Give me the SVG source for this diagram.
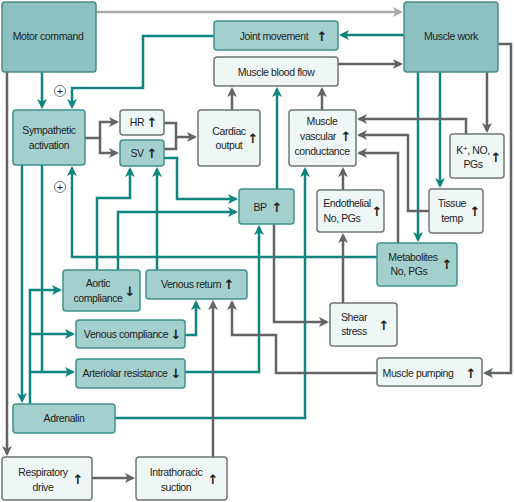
<svg xmlns="http://www.w3.org/2000/svg" width="514" height="502" viewBox="0 0 514 502">
<style>
.big{fill:#8cc1bf;stroke:#4d8a87;stroke-width:1.5}
.tb{fill:#a3cfcd;stroke:#3f918c;stroke-width:1.5}
.lb{fill:#eef6f6;stroke:#707576;stroke-width:1.5}
text{font-family:"Liberation Sans",Arial,sans-serif;font-size:10.5px;fill:#1e1e1e;letter-spacing:-0.4px}
.c{text-anchor:middle}
.ar{font-family:"DejaVu Sans",sans-serif;font-size:13px;font-weight:bold;text-anchor:middle;letter-spacing:0}
.t{fill:none;stroke:#0f8580;stroke-width:2.5}
.g{fill:none;stroke:#626466;stroke-width:2.5}
.lg{fill:none;stroke:#a8aaac;stroke-width:2.5}
</style>
<defs>
<marker id="mt" viewBox="0 0 10 10" refX="8" refY="5" markerWidth="10" markerHeight="10" markerUnits="userSpaceOnUse" orient="auto"><path d="M0,0 L10,5 L0,10 L2.5,5 z" fill="#0f8580"/></marker>
<marker id="mg" viewBox="0 0 10 10" refX="8" refY="5" markerWidth="10" markerHeight="10" markerUnits="userSpaceOnUse" orient="auto"><path d="M0,0 L10,5 L0,10 L2.5,5 z" fill="#626466"/></marker>
<marker id="ml" viewBox="0 0 10 10" refX="8" refY="5" markerWidth="10" markerHeight="10" markerUnits="userSpaceOnUse" orient="auto"><path d="M0,0 L10,5 L0,10 L2.5,5 z" fill="#a8aaac"/></marker>
</defs>
<rect width="514" height="502" fill="#ffffff"/>

<g id="connectors">
<path class="lg" d="M96,12 H401" marker-end="url(#ml)"/>
<path class="t" d="M404,35 H341" marker-end="url(#mt)"/>
<path class="g" d="M338,64 H401" marker-end="url(#mg)"/>
<path class="t" d="M214,36 H143 V88 H72 V107" marker-end="url(#mt)"/>
<path class="t" d="M42,72 V107" marker-end="url(#mt)"/>
<path class="g" d="M7,72 V454" marker-end="url(#mg)"/>
<path class="g" d="M85,138 H100 V122 H117" marker-end="url(#mg)"/>
<path class="g" d="M100,138 V153 H117" marker-end="url(#mg)"/>
<path class="g" d="M164,123 H176 V149 H164"/>
<path class="g" d="M176,137 H195" marker-end="url(#mg)"/>
<path class="g" d="M232,110 V89" marker-end="url(#mg)"/>
<path class="g" d="M322,110 V89" marker-end="url(#mg)"/>
<path class="t" d="M277,189 V89" marker-end="url(#mt)"/>
<path class="t" d="M164,158 H177 V199 H236" marker-end="url(#mt)"/>
<path class="t" d="M118,270 V212 H236" marker-end="url(#mt)"/>
<path class="t" d="M97,270 V198 H130 V169" marker-end="url(#mt)"/>
<path class="t" d="M157,270 V169" marker-end="url(#mt)"/>
<path class="t" d="M377,257 H72 V168" marker-end="url(#mt)"/>
<path class="t" d="M185,372 H259 V227" marker-end="url(#mt)"/>
<path class="t" d="M115,418 H305 V169" marker-end="url(#mt)"/>
<path class="g" d="M274,224 V322 H327" marker-end="url(#mg)"/>
<path class="t" d="M22,165 V401" marker-end="url(#mt)"/>
<path class="t" d="M42,165 V372"/>
<path class="t" d="M30,404 V290 H60" marker-end="url(#mt)"/>
<path class="t" d="M30,334 H73" marker-end="url(#mt)"/>
<path class="t" d="M30,372 H73" marker-end="url(#mt)"/>
<path class="t" d="M185,335 H196 V302" marker-end="url(#mt)"/>
<path class="g" d="M213,457 V302" marker-end="url(#mg)"/>
<path class="g" d="M377,373 H276 V335 H232 V302" marker-end="url(#mg)"/>
<path class="g" d="M498,44 H511 V373 H485" marker-end="url(#mg)"/>
<path class="g" d="M487,72 V131" marker-end="url(#mg)"/>
<path class="t" d="M418,72 V240" marker-end="url(#mt)"/>
<path class="t" d="M440,72 V186" marker-end="url(#mt)"/>
<path class="g" d="M466,134 V119 H359" marker-end="url(#mg)"/>
<path class="g" d="M429,211 H408 V135 H359" marker-end="url(#mg)"/>
<path class="g" d="M398,243 V153 H359" marker-end="url(#mg)"/>
<path class="g" d="M343,190 V169" marker-end="url(#mg)"/>
<path class="g" d="M343,303 V235" marker-end="url(#mg)"/>
<path class="g" d="M92,478 H133" marker-end="url(#mg)"/>
<g id="plus1"><circle cx="60" cy="91" r="5.5" fill="#fff" stroke="#777" stroke-width="1"/><text x="60" y="95" class="c" style="font-size:11px;letter-spacing:0">+</text></g>
<g id="plus2"><circle cx="60" cy="187" r="5.5" fill="#fff" stroke="#777" stroke-width="1"/><text x="60" y="191" class="c" style="font-size:11px;letter-spacing:0">+</text></g>
</g>

<g id="motor-command"><rect class="big" x="2" y="2" width="94" height="70" rx="3"/><text class="c" x="48" y="40">Motor command</text></g>
<g id="muscle-work"><rect class="big" x="404" y="2" width="94" height="70" rx="3"/><text class="c" x="451" y="40">Muscle work</text></g>
<g id="joint-movement"><rect class="tb" x="214" y="21" width="124" height="29" rx="3"/><text class="c" x="274" y="40">Joint movement</text><text class="ar" x="322" y="41">↑</text></g>
<g id="muscle-blood-flow"><rect class="lb" x="214" y="57" width="124" height="29" rx="3"/><text class="c" x="276" y="76">Muscle blood flow</text></g>
<g id="sympathetic"><rect class="tb" x="13" y="110" width="72" height="55" rx="3"/><text class="c" x="49" y="134">Sympathetic</text><text class="c" x="49" y="149">activation</text></g>
<g id="hr"><rect class="lb" x="120" y="110" width="44" height="25" rx="3"/><text class="c" x="137" y="126">HR</text><text class="ar" x="152" y="127">↑</text></g>
<g id="sv"><rect class="tb" x="120" y="140" width="44" height="26" rx="3"/><text class="c" x="137" y="157">SV</text><text class="ar" x="152" y="158">↑</text></g>
<g id="cardiac-output"><rect class="lb" x="198" y="110" width="62" height="56" rx="3"/><text class="c" x="229" y="135">Cardiac</text><text class="c" x="229" y="149">output</text><text class="ar" x="253" y="143">↑</text></g>
<g id="conductance"><rect class="lb" x="289" y="110" width="67" height="56" rx="3"/><text class="c" x="322" y="125">Muscle</text><text class="c" x="318" y="140">vascular</text><text class="ar" x="346" y="141">↑</text><text class="c" x="322" y="155">conductance</text></g>
<g id="k-no-pgs"><rect class="lb" x="450" y="134" width="54" height="44" rx="3"/><text class="c" x="473" y="154">K<tspan style="font-size:8px" dy="-3">+</tspan><tspan dy="3">, NO,</tspan></text><text class="c" x="473" y="168">PGs</text><text class="ar" x="496" y="162">↑</text></g>
<g id="tissue-temp"><rect class="lb" x="429" y="189" width="54" height="44" rx="3"/><text class="c" x="452" y="207">Tissue</text><text class="c" x="452" y="222">temp</text><text class="ar" x="475" y="216">↑</text></g>
<g id="endothelial"><rect class="lb" x="317" y="190" width="67" height="42" rx="3"/><text class="c" x="347" y="207">Endothelial</text><text class="c" x="342" y="222">No, PGs</text><text class="ar" x="377" y="216">↑</text></g>
<g id="bp"><rect class="tb" x="239" y="189" width="55" height="35" rx="3"/><text class="c" x="260" y="211">BP</text><text class="ar" x="277" y="212">↑</text></g>
<g id="metabolites"><rect class="tb" x="377" y="243" width="80" height="43" rx="3"/><text class="c" x="413" y="261">Metabolites</text><text class="c" x="409" y="275">No, PGs</text><text class="ar" x="447" y="269">↑</text></g>
<g id="aortic-compliance"><rect class="tb" x="63" y="270" width="77" height="41" rx="3"/><text class="c" x="98" y="287">Aortic</text><text class="c" x="98" y="302">compliance</text><text class="ar" x="130" y="296">↓</text></g>
<g id="venous-return"><rect class="tb" x="146" y="270" width="101" height="29" rx="3"/><text class="c" x="191" y="288">Venous return</text><text class="ar" x="229" y="289">↑</text></g>
<g id="venous-compliance"><rect class="tb" x="76" y="320" width="109" height="28" rx="3"/><text class="c" x="126" y="338">Venous compliance</text><text class="ar" x="176" y="339">↓</text></g>
<g id="arteriolar-resistance"><rect class="tb" x="76" y="359" width="109" height="29" rx="3"/><text class="c" x="125" y="377">Arteriolar resistance</text><text class="ar" x="176" y="378">↓</text></g>
<g id="shear-stress"><rect class="lb" x="330" y="303" width="67" height="43" rx="3"/><text class="c" x="354" y="321">Shear</text><text class="c" x="354" y="335">stress</text><text class="ar" x="384" y="330">↑</text></g>
<g id="muscle-pumping"><rect class="lb" x="377" y="358" width="105" height="28" rx="3"/><text class="c" x="418" y="377">Muscle pumping</text><text class="ar" x="471" y="378">↑</text></g>
<g id="adrenalin"><rect class="tb" x="13" y="404" width="102" height="29" rx="3"/><text class="c" x="64" y="422">Adrenalin</text></g>
<g id="respiratory-drive"><rect class="lb" x="2" y="457" width="90" height="43" rx="3"/><text class="c" x="43" y="476">Respiratory</text><text class="c" x="43" y="491">drive</text><text class="ar" x="78" y="484">↑</text></g>
<g id="intrathoracic-suction"><rect class="lb" x="136" y="457" width="91" height="43" rx="3"/><text class="c" x="176" y="476">Intrathoracic</text><text class="c" x="176" y="491">suction</text><text class="ar" x="213" y="484">↑</text></g>
</svg>
